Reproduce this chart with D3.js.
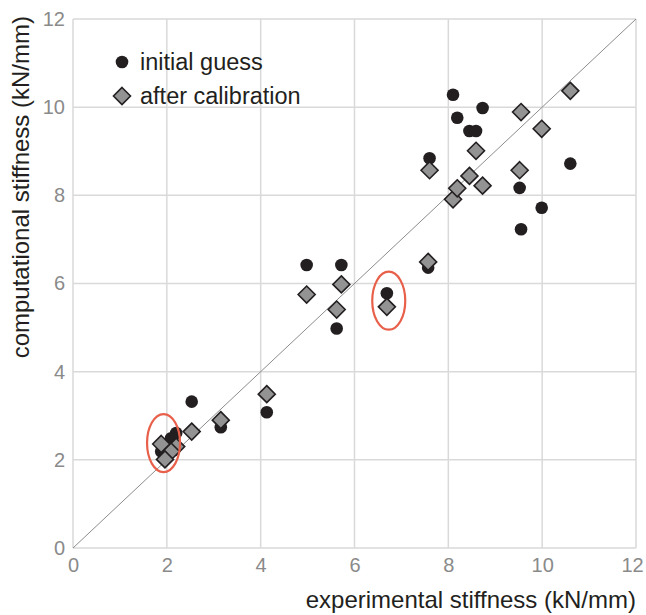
<!DOCTYPE html>
<html>
<head>
<meta charset="utf-8">
<script src="https://cdn.jsdelivr.net/npm/d3@7"></script>
<style>
  body { margin: 0; background: #fff; }
  text { font-family: "Liberation Sans", Arial, Helvetica, sans-serif; }
</style>
</head>
<body>
<div id="chart"></div>
<script>
// experimental stiffness (kN/mm) per specimen, and the two computed estimates
var experimental     = [8.10, 8.73, 8.19, 8.45, 8.59, 7.60, 10.60, 9.52, 9.99, 9.55, 7.57, 4.98, 5.72, 6.69, 5.62, 4.13, 3.15, 2.53, 2.20, 2.09, 1.88, 1.96];
var initialGuess     = [10.28, 9.98, 9.76, 9.46, 9.46, 8.84, 8.72, 8.17, 7.72, 7.23, 6.36, 6.42, 6.42, 5.78, 4.98, 3.08, 2.74, 3.32, 2.61, 2.49, 2.19, 2.12];
var afterCalibration = [7.91, 8.22, 8.16, 8.44, 9.01, 8.57, 10.37, 8.57, 9.51, 9.89, 6.49, 5.75, 5.98, 5.47, 5.41, 3.49, 2.90, 2.64, 2.30, 2.19, 2.36, 2.01];

var ticks = [0, 2, 4, 6, 8, 10, 12];
var seriesNames = ["initial guess", "after calibration"];
// highlighted specimens (data-space centres of the red ellipses)
var highlights = [[1.93, 2.38], [6.73, 5.61]];

var width = 646, height = 615;
var margin = {left: 73, top: 19, right: 10, bottom: 67};

var svg = d3.select("#chart").append("svg")
  .attr("width", width)
  .attr("height", height);

var x = d3.scaleLinear().domain([0, 12]).range([margin.left, width - margin.right]);
var y = d3.scaleLinear().domain([0, 12]).range([height - margin.bottom, margin.top]);

var gridColor = "#d9d9d9", ink = "#231f20", tickColor = "#8a8a8a";

// grid
svg.append("g").selectAll("line.v").data(ticks).enter().append("line")
  .attr("x1", function(d) { return x(d); }).attr("x2", function(d) { return x(d); })
  .attr("y1", y(0)).attr("y2", y(12))
  .attr("stroke", gridColor).attr("stroke-width", 1.5);
svg.append("g").selectAll("line.h").data(ticks).enter().append("line")
  .attr("y1", function(d) { return y(d); }).attr("y2", function(d) { return y(d); })
  .attr("x1", x(0)).attr("x2", x(12))
  .attr("stroke", gridColor).attr("stroke-width", 1.5);

// axes (labels only, lines come from the grid)
var xAxis = svg.append("g")
  .attr("transform", "translate(0," + (y(0) + 6) + ")")
  .call(d3.axisBottom(x).tickValues(ticks).tickSize(0).tickPadding(4));
var yAxis = svg.append("g")
  .attr("transform", "translate(" + (x(0) - 8) + ",0)")
  .call(d3.axisLeft(y).tickValues(ticks).tickSize(0).tickPadding(0));
[xAxis, yAxis].forEach(function(a) {
  a.select(".domain").remove();
  a.selectAll("text").attr("fill", tickColor).style("font-size", "20px");
});
// last x label would run off the page, nudge it in like the original does
xAxis.selectAll("text").filter(function(d) { return d == 12; }).attr("dx", -4);

// 1:1 line
svg.append("line")
  .attr("x1", x(0)).attr("y1", y(0)).attr("x2", x(12)).attr("y2", y(12))
  .attr("stroke", "#8c8c8c").attr("stroke-width", 1);

var diamond = function(s) {
  return "M0," + (-s) + "L" + s + ",0L0," + s + "L" + (-s) + ",0Z";
};

// initial guess
svg.append("g").selectAll("circle").data(experimental).enter().append("circle")
  .attr("cx", function(d) { return x(d); })
  .attr("cy", function(d, i) { return y(initialGuess[i]); })
  .attr("r", 6.3)
  .attr("fill", ink);

// after calibration
svg.append("g").selectAll("path").data(experimental).enter().append("path")
  .attr("transform", function(d, i) { return "translate(" + x(d) + "," + y(afterCalibration[i]) + ")"; })
  .attr("d", diamond(8.5))
  .attr("fill", "#939393")
  .attr("stroke", ink).attr("stroke-width", 1.6);

// highlight ellipses
svg.append("g").selectAll("ellipse").data(highlights).enter().append("ellipse")
  .attr("cx", function(d) { return x(d[0]); })
  .attr("cy", function(d) { return y(d[1]); })
  .attr("rx", 16.5).attr("ry", 29)
  .attr("fill", "none")
  .attr("stroke", "#e8604a").attr("stroke-width", 2.2);

// legend
var legend = svg.append("g").attr("transform", "translate(122,62)");
legend.append("circle").attr("r", 6.3).attr("fill", ink);
legend.append("path").attr("transform", "translate(0,34)").attr("d", diamond(8.5))
  .attr("fill", "#939393").attr("stroke", ink).attr("stroke-width", 1.6);
legend.selectAll("text").data(seriesNames).enter().append("text")
  .attr("x", 18).attr("y", function(d, i) { return i * 34 + 8; })
  .attr("fill", ink).style("font-size", "23.5px")
  .text(function(d) { return d; });

// axis titles
svg.append("text")
  .attr("x", x(12)).attr("y", 608)
  .attr("text-anchor", "end")
  .attr("fill", ink).style("font-size", "24px")
  .text("experimental stiffness (kN/mm)");
svg.append("text")
  .attr("transform", "translate(29,16) rotate(-90)")
  .attr("text-anchor", "end")
  .attr("fill", ink).style("font-size", "24px")
  .text("computational stiffness (kN/mm)");
</script>
</body>
</html>
